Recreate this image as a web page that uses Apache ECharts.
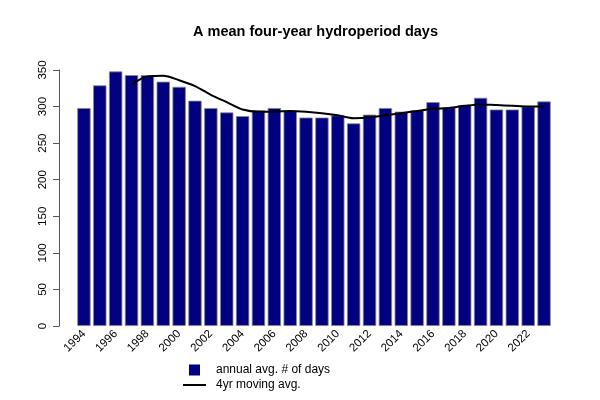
<!DOCTYPE html>
<html>
<head>
<meta charset="utf-8">
<script src="https://cdn.jsdelivr.net/npm/echarts@6/dist/echarts.min.js"></script>
<style>html,body{margin:0;padding:0;background:#fff}#c{width:600px;height:400px}</style>
</head>
<body>
<div id="c"></div>
<script>
var years = ['1994','1995','1996','1997','1998','1999','2000','2001','2002','2003','2004','2005','2006','2007','2008','2009','2010','2011','2012','2013','2014','2015','2016','2017','2018','2019','2020','2021','2022','2023'];
var annualDays = [298,329,348,343,343,334,327,308,298,292,287,295,298,294,285,285,288,277,289,298,293,295,306,299,302,312,296,296,300,307];
var movingAvg = [null,null,null,330,341,342,336,328,316,306,296,293,293,294,293,291,288,284,285,288,291,294,297,298,301,303,302,301,300,300];
var yTicks = [0,50,100,150,200,250,300,350];

var chart = echarts.init(document.getElementById('c'), null, {renderer:'canvas'});
chart.setOption({
  animation: false,
  textStyle: {fontFamily: 'Liberation Sans, Arial, sans-serif'},
  title: {
    text: 'A mean four-year hydroperiod days',
    left: 188, top: 19,
    textStyle: {fontSize: 14.5, fontWeight: 'bold', color: '#000', fontFamily: 'Liberation Sans, Arial, sans-serif'}
  },
  legend: [
    {
      data: ['annual avg. # of days'],
      left: 189, top: 364, padding: 0,
      icon: 'rect', itemWidth: 11, itemHeight: 11,
      itemStyle: {borderWidth: 0, color: '#000080'},
      textStyle: {fontSize: 12, color: '#000', padding: [0,0,0,11]}
    },
    {
      data: ['4yr moving avg.'],
      left: 183, top: 379, padding: 0,
      icon: 'rect', itemWidth: 23, itemHeight: 2,
      itemStyle: {borderWidth: 0, color: '#000'},
      textStyle: {fontSize: 12, color: '#000', padding: [0,0,0,5]}
    }
  ],
  grid: {left: 76, right: 48, top: 70, bottom: 74, containLabel: false},
  xAxis: {
    type: 'category',
    data: years,
    axisLine: {show: false},
    axisTick: {show: false},
    axisLabel: {interval: 1, rotate: 45, fontSize: 11.5, color: '#000', margin: 6}
  },
  yAxis: {
    type: 'value',
    min: 0, max: 350, interval: 50,
    offset: 17,
    splitLine: {show: false},
    axisLine: {show: true, lineStyle: {color: '#555', width: 1}},
    axisTick: {show: true, length: 6, lineStyle: {color: '#555'}},
    axisLabel: {rotate: 90, fontSize: 11.5, color: '#000', margin: 10,
      formatter: function(v){ return yTicks.indexOf(v) >= 0 ? String(v) : ''; }}
  },
  series: [
    {
      name: 'annual avg. # of days',
      type: 'bar',
      data: annualDays,
      barCategoryGap: '16%',
      itemStyle: {color: '#000080', borderColor: '#888', borderWidth: 0.8}
    },
    {
      name: '4yr moving avg.',
      type: 'line',
      data: movingAvg,
      symbol: 'none',
      smooth: 0.3,
      connectNulls: false,
      itemStyle: {color: '#000'},
      lineStyle: {color: '#000', width: 2}
    }
  ]
});
</script>
</body>
</html>
